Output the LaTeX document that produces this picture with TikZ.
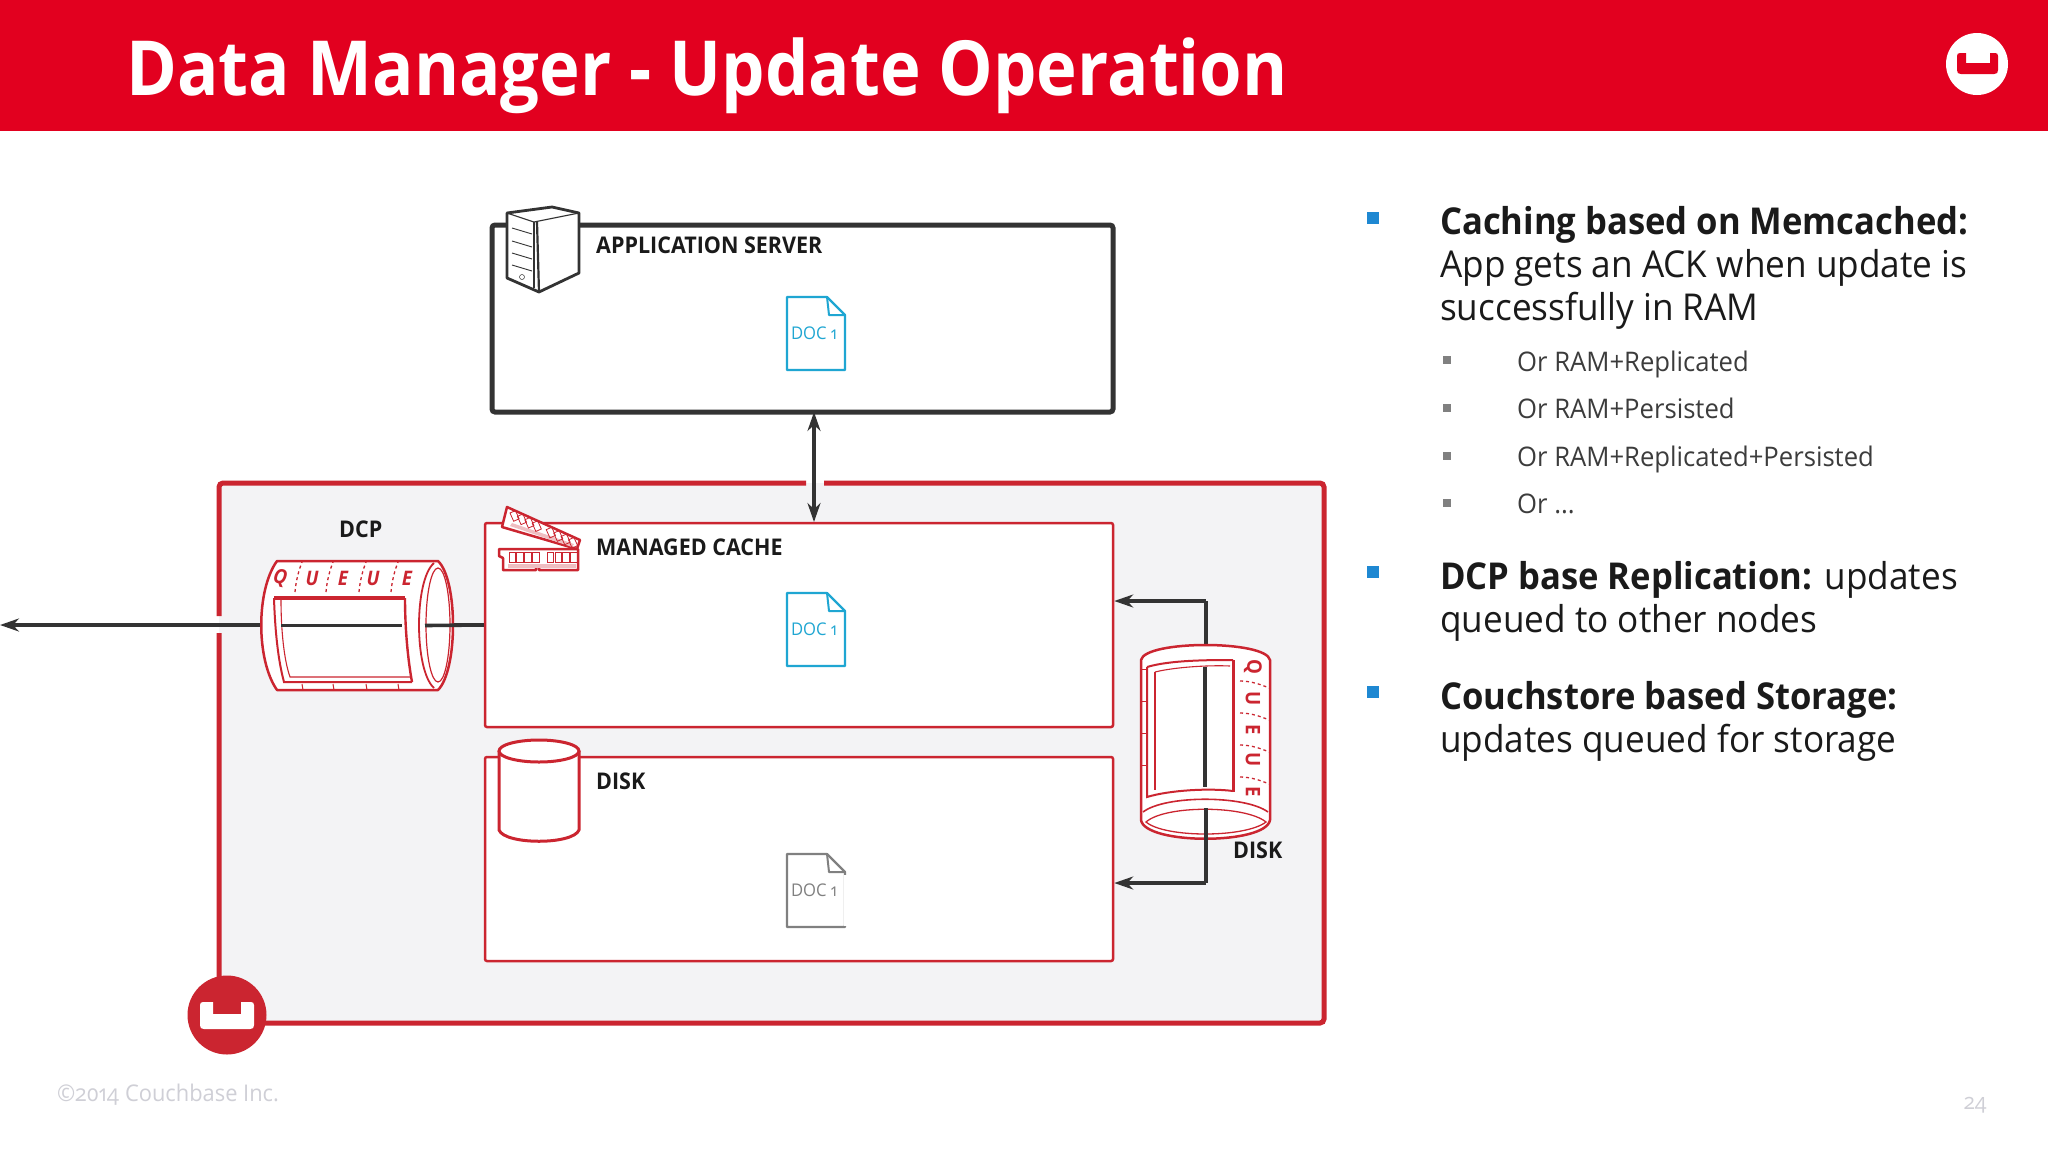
\documentclass[tikz,border=0pt]{standalone}
\usepackage{fontspec}
\setmainfont[FakeStretch=0.95]{Open Sans}
\newfontfamily\medbase[FakeStretch=0.935]{Open Sans}
\newfontfamily\titlebase[FakeStretch=0.905]{Open Sans}
\newcommand{\medfont}{\medbase\bfseries}
\newfontfamily\oldfont[Numbers=OldStyle,FakeStretch=0.95]{Open Sans}
\usetikzlibrary{arrows.meta}
\definecolor{hdred}{HTML}{E2001F}
\definecolor{cbred}{HTML}{CB2530}
\definecolor{dk}{HTML}{333333}
\definecolor{panel}{HTML}{F3F3F5}
\definecolor{docblue}{HTML}{1FA6D2}
\definecolor{docgray}{HTML}{808080}
\definecolor{bulblue}{HTML}{1E88D2}
\definecolor{bulgray}{HTML}{808080}
\definecolor{foot}{HTML}{CFCFD6}
\definecolor{txt}{HTML}{1A1A1A}
\tikzset{
  x=1pt,y=-1pt,
  lab/.style={inner sep=0pt,anchor=base west,text=txt,font=\medbase\fontsize{23}{23}\selectfont},
  body/.style={inner sep=0pt,anchor=base west,text=txt,font=\fontsize{37}{37}\selectfont},
  sub/.style={inner sep=0pt,anchor=base west,text=txt!85,font=\fontsize{27}{27}\selectfont},
  bullet/.style={fill=bulblue,draw=none,inner sep=0pt,minimum size=12pt},
  subbullet/.style={fill=bulgray,draw=none,inner sep=0pt,minimum size=8pt},
  cachebox/.style={draw=cbred,line width=2.5pt,fill=white,rounded corners=2pt,inner sep=0pt,minimum width=628pt},
  appbox/.style={draw=dk,line width=5pt,fill=white,rounded corners=3pt,inner sep=0pt},
  conn/.style={draw=dk,line width=3.6pt},
  tip/.style={-{Stealth[length=19pt,width=13pt]}},
  rr/.style={draw=cbred,line width=2.5pt,line join=round},
  rt/.style={draw=cbred,line width=1.1pt},
  dot/.style={draw=cbred,line width=1.3pt,dash pattern=on 3pt off 3pt},
  ql/.style={inner sep=0pt,text=cbred,font=\medfont\fontsize{20}{20}\selectfont},
  doctext/.style={inner sep=0pt,font=\oldfont\fontsize{17.5}{17.5}\selectfont},
}
\newcommand{\docicon}[4]{% x, top y, colour, name
  \draw[#3,line width=2.2pt,line join=round,fill=white] (#1,#2) -- (#1+40,#2) -- (#1+58,#2+18) -- (#1+58,#2+73) -- (#1,#2+73) -- cycle;
  \draw[#3,line width=2pt,line join=round] (#1+40,#2) -- (#1+42,#2+18) -- (#1+58,#2+18);
  \node[doctext,text=#3] (#4) at (#1+27,#2+36) {DOC 1};
}
\newcommand{\logoshape}[7]{% x1,x2,y1,y2,nx1,nx2,ny
  (#1+3,#3) -- (#5,#3) -- (#5,#7) -- (#6,#7) -- (#6,#3) -- (#2-3,#3) .. controls (#2-1,#3) and (#2,#3+1) .. (#2,#3+3) -- (#2,#4-4) .. controls (#2,#4-1) and (#2-1,#4) .. (#2-4,#4) -- (#1+4,#4) .. controls (#1+1,#4) and (#1,#4-1) .. (#1,#4-4) -- (#1,#3+3) .. controls (#1,#3+1) and (#1+1,#3) .. (#1+3,#3) -- cycle
}
\begin{document}
\begin{tikzpicture}
\useasboundingbox (0,0) rectangle (2048,1152);
\fill[white] (0,0) rectangle (2048,1152);
% header
\fill[hdred] (0,0) rectangle (2048,131);
\node[inner sep=0pt,anchor=base west,text=white,font=\titlebase\bfseries\fontsize{76}{76}\selectfont] (title) at (126,95) {Data Manager - Update Operation};
\fill[white] (1977,64) circle (31pt);
\fill[hdred] \logoshape{1957}{1998}{53}{74}{1966}{1990}{63};

% panel
\fill[panel] (219,483) rectangle (1324,1023);
\draw[cbred,line width=5pt,rounded corners=4pt] (219,633) -- (219,1023) -- (1324,1023) -- (1324,483) -- (824,483);
\draw[cbred,line width=5pt,rounded corners=4pt] (806,483) -- (219,483) -- (219,616);

% application server
\node[appbox,minimum width=621pt,minimum height=187pt] (app) at (802.5,318.5) {};
\node[lab] (applab) at (596,253) {\medfont APPLICATION SERVER};
\docicon{787}{297}{docblue}{doca}
% server icon
\draw[dk,line width=2.8pt,line join=round,fill=white] (507,213) -- (552,207) -- (579,213) -- (579,273) -- (539,292) -- (507,278) -- cycle;
\draw[dk,line width=1.1pt] (507,213) -- (534,222) -- (579,213);
\draw[dk,line width=1.1pt] (534,222) -- (534,288);
\draw[dk,line width=2.2pt] (537,222) -- (539,292);
\foreach \yy in {228,241,253,265} \draw[dk,line width=.9pt] (512,\yy) -- (532,\yy+6);
\draw[dk,line width=.5pt] (522,277) circle (2.5pt);

% managed cache
\node[cachebox,minimum height=204pt] (cache) at (799,625) {};
\node[lab] (cachelab) at (596,555) {\medfont MANAGED CACHE};
\docicon{787}{593}{docblue}{docb}
% RAM icons
\draw[rr,fill=white] (507,507) -- (580,540) -- (577,549) -- (502,527) -- cycle;
\fill[cbred!30] (510,526) -- (572,547) -- (574,544) -- (512,523) -- cycle;
\foreach \k in {0,1,2,3,4.9,5.9,6.9,7.9}
  \draw[cbred,line width=.8pt,shift={(510+\k*7.4,513+\k*3.4)},rotate=24] (0,0) rectangle (6,9);
\draw[rr,fill=white] (499,549) -- (578,549) -- (578,570) -- (539,570) -- (539,566) -- (536,566) -- (536,570) -- (503,570) -- (503,558) -- (499,556) -- cycle;
\fill[cbred!30] (508,564) rectangle (576,568);
\foreach \k in {0,1,2,3,4.9,5.9,6.9,7.9}
  \draw[cbred,line width=.8pt] (509+\k*7.8,552) rectangle (515.5+\k*7.8,562);

% disk box
\node[cachebox,minimum height=204pt] (disk) at (799,859) {};
\node[lab] (disklab) at (596,789) {\medfont DISK};
\docicon{787}{854}{docgray}{docc}
\fill[white] (844,875) rectangle (848,926);
% disk icon
\draw[rr,line width=3pt,fill=white] (499,751) -- (499,830) .. controls (505,845) and (573,845) .. (579,830) -- (579,751);
\draw[cbred,line width=3pt,fill=white] (539,751) ellipse [x radius=40pt,y radius=11pt];
\draw[cbred,line width=1pt] (500,753) .. controls (510,765) and (568,765) .. (578,753);

% connectors
\coordinate (appport) at (814,412);
\coordinate (cacheport) at (814,522);
\draw[conn,{Stealth[length=19pt,width=13pt]}-{Stealth[length=19pt,width=13pt]}] (appport) -- (cacheport);

\coordinate (dcpout) at (0,625);
\coordinate (cachewest) at (cache.west |- dcpout);
\draw[conn,tip] (cachewest) -- (dcpout);

\coordinate (qvtop) at (1206,601);
\coordinate (qvbot) at (1206,883);
\draw[conn,tip] (qvtop) -- (cache.east |- qvtop);
\draw[conn,tip] (qvbot) -- (disk.east |- qvbot);
\draw[conn] (qvtop) -- (qvbot);

% horizontal queue
\draw[rr,fill=white] (277,561) .. controls (256,590) and (256,660) .. (277,690) -- (438,690) .. controls (458,670) and (458,580) .. (438,561) -- cycle;
\draw[cbred,line width=1.2pt,fill=white] (438,625) ellipse [x radius=12pt,y radius=57pt];
\draw[cbred,line width=1.8pt] (434,563) .. controls (414,580) and (414,670) .. (434,688);
\fill[white] (276,598) -- (405,598) .. controls (405,630) and (408,660) .. (412,682) -- (284,682) .. controls (278,660) and (275,630) .. (276,598) -- cycle;
\draw[cbred,line width=3.4pt] (274,598) -- (405,598);
\draw[cbred,line width=2.4pt] (405,598) .. controls (405,630) and (408,660) .. (412,682);
\draw[cbred,line width=2pt] (412,682) -- (284,682) .. controls (278,660) and (275,630) .. (274,598);
\draw[rt] (281,600) .. controls (281,630) and (284,660) .. (290,677) -- (410,677);
\draw[conn] (281,625.5) -- (402,625.5);
\draw[conn] (425,625.5) -- (cachewest);
\node[ql,rotate=-10] (q1) at (280,578) {\itshape Q};
\node[ql] (q2) at (312,578) {\itshape U};
\node[ql] (q3) at (343,578) {\itshape E};
\node[ql] (q4) at (373,578) {\itshape U};
\node[ql] (q5) at (407,578) {\itshape E};
\foreach \xx in {302,333,366,398} {
  \draw[dot] (\xx-7,592) .. controls (\xx-6,580) and (\xx-3,570) .. (\xx,562);
  \draw[cbred,line width=1pt] (\xx,684) -- (\xx+1,690);
}

% vertical queue
\draw[rr,fill=white] (1141,660) .. controls (1145,640) and (1266,640) .. (1270,660) -- (1270,820) .. controls (1266,845) and (1145,845) .. (1141,820) -- cycle;
\draw[cbred,line width=1.3pt] (1146,822) .. controls (1165,805) and (1245,805) .. (1266,822) .. controls (1245,838) and (1165,838) .. (1146,822) -- cycle;
\draw[cbred,line width=1.6pt] (1143,812) .. controls (1165,795) and (1245,795) .. (1268,812);
\fill[white] (1147,667) .. controls (1170,660) and (1210,660) .. (1233,660) -- (1233,790) .. controls (1210,788) and (1170,790) .. (1147,797) -- cycle;
\draw[cbred,line width=2pt] (1147,667) .. controls (1170,660) and (1210,660) .. (1233,660);
\draw[cbred,line width=3pt] (1233,660) -- (1233,792);
\draw[cbred,line width=2pt] (1233,791) .. controls (1210,788) and (1170,790) .. (1147,797) -- (1147,667);
\draw[rt] (1155,672) -- (1155,790);
\draw[rt] (1155,672) .. controls (1175,667) and (1210,665) .. (1230,666);
\draw[conn] (1205,667) -- (1205,787);
\foreach \yy in {688,720,752,784} {
  \draw[dot] (1240,\yy-7) .. controls (1250,\yy-7) and (1260,\yy-4) .. (1269,\yy);
  \draw[cbred,line width=1pt] (1141,\yy-19) -- (1147,\yy-19);
}
\node[ql,rotate=-90] (v1) at (1253,667) {Q};
\node[ql,rotate=-90] (v2) at (1253,699) {U};
\node[ql,rotate=-90] (v3) at (1253,730) {E};
\node[ql,rotate=-90] (v4) at (1253,760) {U};
\node[ql,rotate=-90] (v5) at (1253,792) {E};
\draw[conn] (1206,808) -- (1206,845);

\node[lab] (dcplab) at (339,537) {\medfont DCP};
\node[lab] (disklabb) at (1233,858) {\medfont DISK};

% logo
\fill[cbred] (227,1015) circle (39.5pt);
\fill[white] \logoshape{200}{254}{1002}{1029}{213}{241}{1014};

% right text
\node[bullet] (b1) at (1373,218) {};
\node[body] (t1) at (1440,234) {\medfont Caching based on Memcached:};
\node[body] (t2) at (1440,277) {App gets an ACK when update is};
\node[body] (t3) at (1440,320) {successfully in RAM};
\node[subbullet] (s1) at (1447,360) {};
\node[sub] (u1) at (1517,371) {Or RAM+Replicated};
\node[subbullet] (s2) at (1447,408) {};
\node[sub] (u2) at (1517,418) {Or RAM+Persisted};
\node[subbullet] (s3) at (1447,456) {};
\node[sub] (u3) at (1517,466) {Or RAM+Replicated+Persisted};
\node[subbullet] (s4) at (1447,503) {};
\node[sub] (u4) at (1517,513) {Or ...};
\node[bullet] (b2) at (1373,572) {};
\node[body] (t4) at (1440,589) {{\medfont DCP base Replication:} updates};
\node[body] (t5) at (1440,632) {queued to other nodes};
\node[bullet] (b3) at (1373,692) {};
\node[body] (t6) at (1440,709) {\medfont Couchstore based Storage:};
\node[body] (t7) at (1440,752) {updates queued for storage};

% footer
\node[inner sep=0pt,anchor=base west,text=foot,font=\oldfont\fontsize{23}{23}\selectfont] (copy) at (57,1101) {©2014 Couchbase Inc.};
\node[inner sep=0pt,anchor=base west,text=foot,font=\oldfont\fontsize{22}{22}\selectfont] (page) at (1964,1109) {24};
\end{tikzpicture}
\end{document}
